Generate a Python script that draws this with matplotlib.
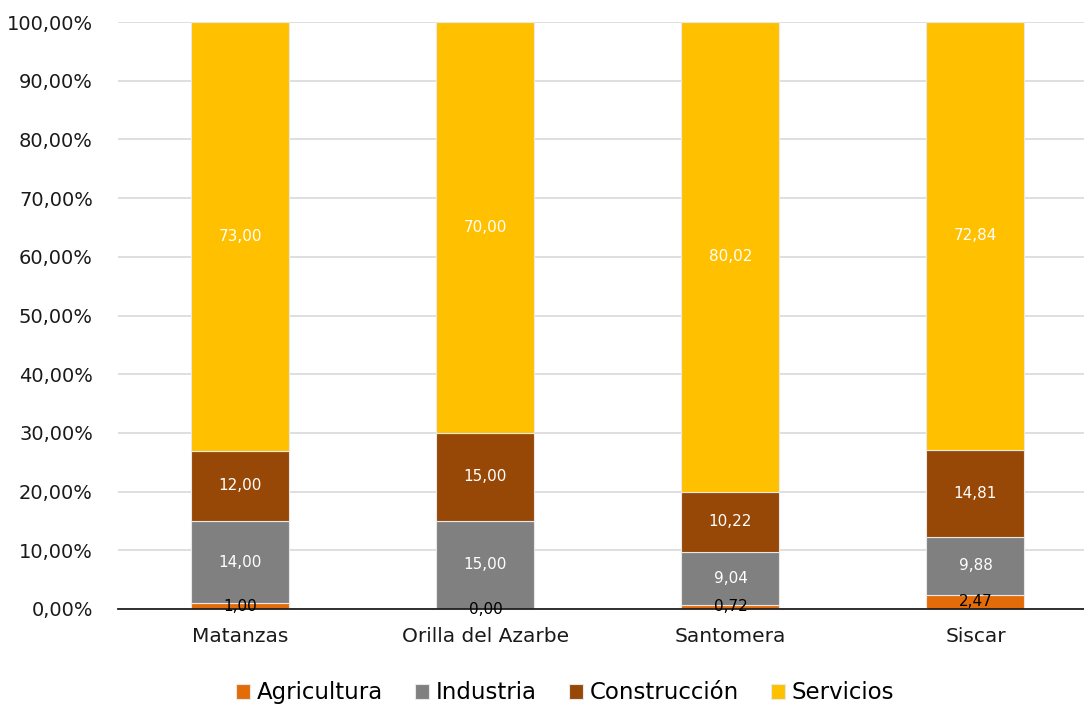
import matplotlib.pyplot as plt
from matplotlib.ticker import FuncFormatter
import numpy as np

plt.rcParams['font.family'] = ['DejaVu Sans']

# sector shares (%) by locality
categories = ["Matanzas", "Orilla del Azarbe", "Santomera", "Siscar"]
agricultura = [1.00, 0.00, 0.72, 2.47]
industria = [14.00, 15.00, 9.04, 9.88]
construccion = [12.00, 15.00, 10.22, 14.81]
servicios = [73.00, 70.00, 80.02, 72.84]

series = [
    ("Agricultura", agricultura, "#E36C09", "black"),
    ("Industria", industria, "#808080", "white"),
    ("Construcción", construccion, "#974806", "white"),
    ("Servicios", servicios, "#FFC000", "white"),
]

fig = plt.figure(figsize=(10.84, 7.05), dpi=100)
ax = fig.add_axes([118 / 1084, 1 - 609 / 705, 966 / 1084, 587 / 705])

x = np.arange(len(categories))
bottom = np.zeros(len(categories))
for name, vals, color, txt_color in series:
    vals = np.array(vals)
    ax.bar(x, vals, width=0.4, bottom=bottom, color=color, label=name,
           edgecolor="#e8e8e8", linewidth=0.8, zorder=3)
    for xi, b, v in zip(x, bottom, vals):
        ax.text(xi, b + v / 2, f"{v:.2f}".replace(".", ","), ha="center",
                va="center", fontsize=11, color=txt_color, zorder=5)
    bottom += vals

ax.set_xlim(-0.5, 3.443)
ax.set_ylim(0, 100)
ax.set_yticks(np.arange(0, 101, 10))
ax.yaxis.set_major_formatter(FuncFormatter(lambda v, p: f"{v:.2f}%".replace(".", ",")))
ax.set_xticks(x)
ax.set_xticklabels(categories)
ax.tick_params(axis="both", length=0, colors="#1a1a1a")
ax.tick_params(axis="x", pad=13, labelsize=14.5)
ax.tick_params(axis="y", pad=18, labelsize=14)
ax.grid(axis="y", color="#d9d9d9", linewidth=1.2, zorder=0)
for s in ["top", "right", "left"]:
    ax.spines[s].set_visible(False)
ax.spines["bottom"].set_color("#202020")
ax.spines["bottom"].set_linewidth(1.3)
ax.spines["bottom"].set_zorder(4)

ax.legend(loc="center", bbox_to_anchor=(0.463, -0.143),
          ncol=4, frameon=False, fontsize=16.5, handlelength=0.6, handleheight=0.6,
          handletextpad=0.3, columnspacing=1.4, borderpad=0)

fig.savefig("out.png", dpi=100)
